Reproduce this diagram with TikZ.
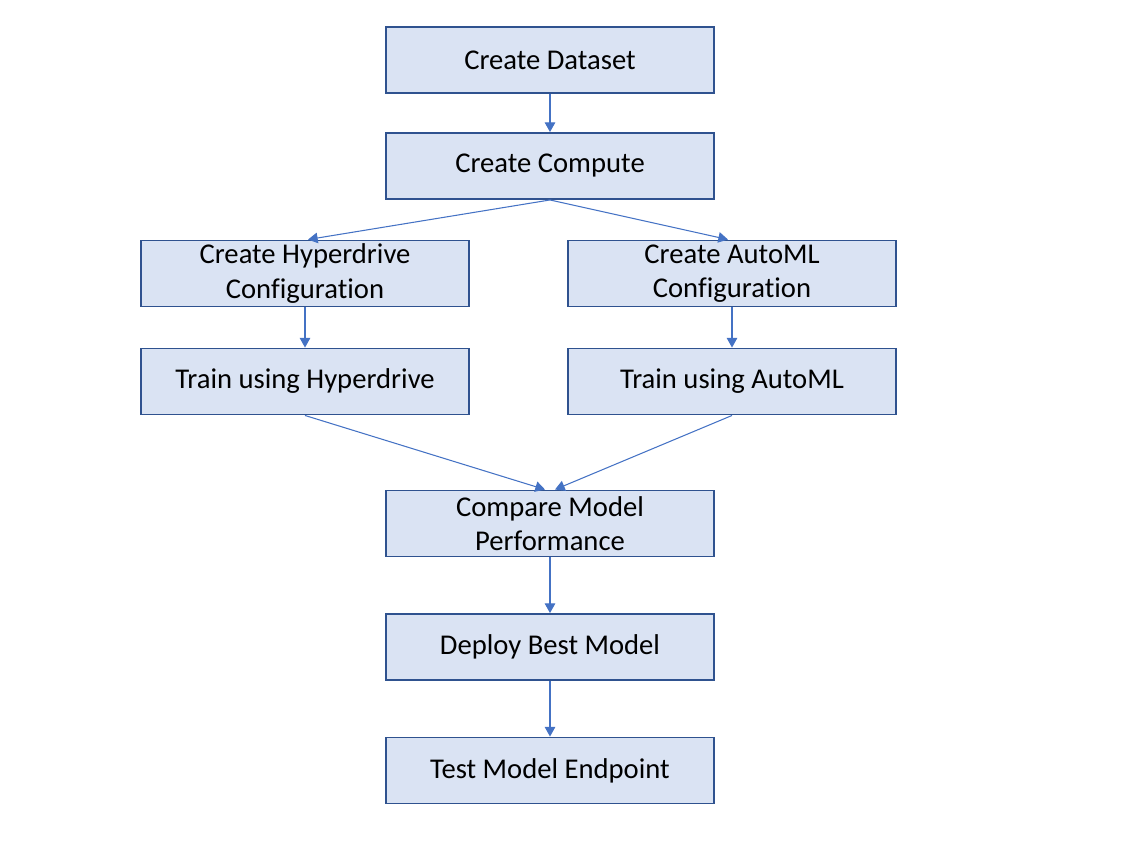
\documentclass[tikz,border=0pt]{standalone}
\usepackage{fontspec}
\setmainfont{Carlito}[Ligatures=NoCommon]
\usetikzlibrary{arrows.meta}
\definecolor{boxfill}{HTML}{DAE3F3}
\definecolor{boxline}{HTML}{2F528F}
\definecolor{arrowline}{HTML}{4472C4}
\begin{document}
\begin{tikzpicture}[x=0.02cm,y=-0.02cm]
      \tikzstyle{dedge} = [-{Triangle[length=5.5pt,width=6pt]},draw=arrowline,line width=0.6pt]
      \tikzstyle{stage}=[
        rectangle,
        draw=boxline,
        fill=boxfill,
        line width=1.1pt,
        minimum width=6.56cm,
        minimum height=1.32cm,
        align=center,
        font=\fontsize{16.3pt}{19.5pt}\selectfont,
        inner sep=0pt,
      ]
      \useasboundingbox (0,0) rectangle (1142,853);

      \node[stage] (ds) at (550,60) {Create Dataset};
      \node[stage] (cp) at (550,166) {Create Compute};
      \node[stage] (hc) at (305,273.5) {Create Hyperdrive\\Configuration};
      \node[stage] (ac) at (732,273.5) {Create AutoML\\Configuration};
      \node[stage] (ht) at (305,381.5) {Train using Hyperdrive};
      \node[stage] (at) at (732,381.5) {Train using AutoML};
      \node[stage] (cm) at (550,523.5) {Compare Model\\Performance};
      \node[stage] (db) at (550,647) {Deploy Best Model};
      \node[stage] (te) at (550,770.5) {Test Model Endpoint};

      \draw[dedge] (ds)--(cp);
      \draw[dedge] (cp.south)--([xshift=0.06cm]hc.north);
      \draw[dedge] (cp.south)--([xshift=-0.08cm]ac.north);
      \draw[dedge] (hc)--(ht);
      \draw[dedge] (ac)--(at);
      \draw[dedge] (ht.south)--([xshift=-0.1cm]cm.north);
      \draw[dedge] (at.south)--([xshift=0.1cm]cm.north);
      \draw[dedge] (cm)--(db);
      \draw[dedge] (db)--(te);
    \end{tikzpicture}
\end{document}
